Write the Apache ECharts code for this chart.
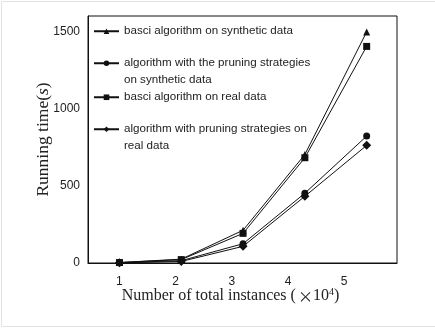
<!DOCTYPE html>
<html><head><meta charset="utf-8">
<script src="https://cdn.jsdelivr.net/npm/echarts@6/dist/echarts.min.js"></script>
<style>html,body{margin:0;padding:0;background:#fff}#c{width:435px;height:330px}</style>
</head><body><div id="c"></div>
<script>
const xValues = [1, 2.1, 3.2, 4.3, 5.4];
const basicSynthetic = [3, 25, 212, 703, 1497];
const pruningSynthetic = [2, 15, 125, 452, 822];
const basicReal = [3, 22, 192, 682, 1403];
const pruningReal = [1, 10, 108, 432, 762];
const seriesNames = [
  'basci algorithm on synthetic data',
  'algorithm with the pruning strategies on synthetic data',
  'basci algorithm on real data',
  'algorithm with pruning strategies on real data'
];
const legendTexts = [
  'basci algorithm on synthetic data',
  ' \nalgorithm with the pruning strategies\non synthetic data',
  'basci algorithm on real data',
  ' \nalgorithm with pruning strategies on\nreal data'
];
const symbols = ['triangle', 'circle', 'rect', 'diamond'];
const values = [basicSynthetic, pruningSynthetic, basicReal, pruningReal];
const yTicks = [0, 500, 1000, 1500];
const xTicks = [1, 2, 3, 4, 5];

const chart = echarts.init(document.getElementById('c'), null, {renderer: 'canvas'});
const legendTops = [23, 38.5, 89, 104.5];
const option = {
  animation: false,
  backgroundColor: '#fff',
  graphic: [{
    type: 'rect', shape: {x: 1.5, y: 1.5, width: 445, height: 325},
    style: {fill: 'none', stroke: '#e2e2e2', lineWidth: 1}, silent: true
  }],
  grid: {left: 88, top: 16, width: 309, height: 247, show: true, borderColor: '#111', borderWidth: 1},
  legend: seriesNames.map((n, i) => ({
    data: [n], left: 93, top: legendTops[i], orient: 'vertical', padding: 0,
    itemWidth: 25, itemHeight: 7, itemGap: 0,
    formatter: () => legendTexts[i],
    textStyle: {fontFamily: 'Liberation Sans', fontSize: 11.6, color: '#222', lineHeight: 16.5},
    inactiveColor: '#222'
  })),
  xAxis: {
    type: 'value', min: 0.44, max: 5.94,
    axisLine: {show: true, lineStyle: {color: '#111'}},
    axisTick: {show: false}, splitLine: {show: false},
    axisLabel: {
      showMinLabel: false, showMaxLabel: false, margin: 13,
      fontFamily: 'Liberation Sans', fontSize: 12, color: '#222',
      formatter: v => xTicks.includes(v) ? String(v) : ''
    },
    name: '{t|Number of total instances (}{m|×}{t|10}{s|4}{t|)}',
    nameLocation: 'middle', nameGap: 24, nameMoveOverlap: false,
    nameTextStyle: {
      padding: [0, 24, 0, 0],
      rich: {
        t: {fontFamily: 'Liberation Serif', fontSize: 16, color: '#222'},
        m: {fontFamily: 'Noto Sans CJK SC', fontSize: 15, color: '#222', padding: [0, 0, 0, 2]},
        s: {fontFamily: 'Liberation Serif', fontSize: 10, color: '#222', verticalAlign: 'top', padding: [0, 0, 8, 0]}
      }
    }
  },
  yAxis: {
    type: 'value', min: 0, max: 1600, interval: 500,
    axisLine: {show: true, lineStyle: {color: '#111'}},
    axisTick: {show: false}, splitLine: {show: false},
    axisLabel: {
      showMaxLabel: false, margin: 8,
      fontFamily: 'Liberation Sans', fontSize: 12, color: '#222',
      formatter: v => yTicks.includes(v) ? String(v) : ''
    },
    name: '{t|Running time(}{i|s}{t|)}',
    nameLocation: 'middle', nameGap: 36, nameMoveOverlap: false,
    nameTextStyle: {
      rich: {
        t: {fontFamily: 'Liberation Serif', fontSize: 17.5, color: '#222'},
        i: {fontFamily: 'Liberation Serif', fontSize: 17.5, fontStyle: 'italic', color: '#222'}
      }
    }
  },
  series: seriesNames.map((n, i) => ({
    name: n, type: 'line',
    data: xValues.map((x, k) => [x, values[i][k]]),
    symbol: symbols[i], symbolSize: symbols[i] === 'diamond' ? 9 : 7,
    showAllSymbol: true,
    lineStyle: {color: '#111', width: 1},
    itemStyle: {color: '#111'},
    z: 3 + i
  }))
};
chart.setOption(option);
</script></body></html>
